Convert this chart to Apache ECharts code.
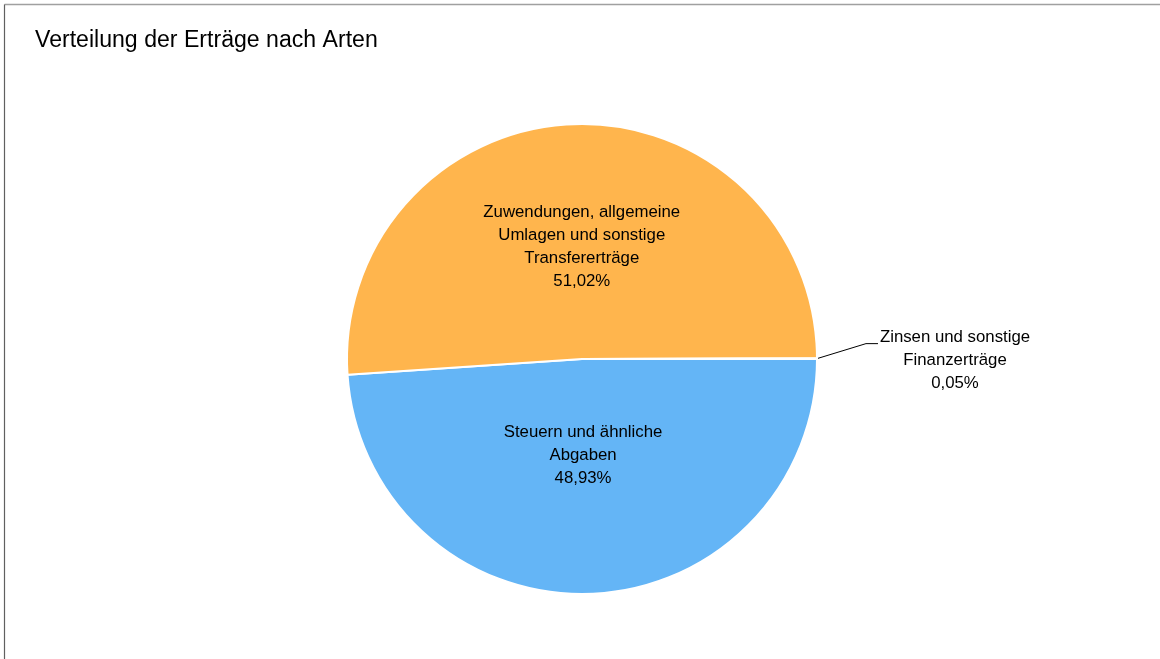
<!DOCTYPE html>
<html>
<head>
<meta charset="utf-8">
<script src="https://cdn.jsdelivr.net/npm/echarts@6/dist/echarts.min.js"></script>
<style>
html,body{margin:0;padding:0;background:#fff;}
#chart{width:1160px;height:659px;}
</style>
</head>
<body>
<div id="chart"></div>
<script>
const titleText = 'Verteilung der Erträge nach Arten';
const categories = [
  'Steuern und ähnliche\nAbgaben',
  'Zuwendungen, allgemeine\nUmlagen und sonstige\nTransfererträge',
  'Zinsen und sonstige\nFinanzerträge'
];
const percentLabels = ['48,93%', '51,02%', '0,05%'];
const values = [48.93, 51.02, 0.05];
const colors = ['#64B5F6', '#FFB54D', '#FFB54D'];

const FONT = "'Liberation Sans', Arial, sans-serif";

const chart = echarts.init(document.getElementById('chart'), null, {renderer: 'canvas'});

const data = categories.map((c, i) => ({
  name: c,
  value: values[i],
  pct: percentLabels[i],
  itemStyle: {color: colors[i]},
  label: {position: i === 2 ? 'outside' : 'inside'},
  labelLine: {show: i === 2}
}));

chart.setOption({
  animation: false,
  backgroundColor: '#fff',
  title: {
    text: titleText,
    left: 30,
    top: 24.5,
    textStyle: {fontFamily: FONT, fontSize: 23.1, fontWeight: 'normal', color: '#000'}
  },
  graphic: [
    {type: 'line', shape: {x1: 4.5, y1: 4.5, x2: 1160, y2: 4.5}, style: {stroke: '#a0a0a0', lineWidth: 1.5}, z: 100},
    {type: 'line', shape: {x1: 4.5, y1: 4.5, x2: 4.5, y2: 659}, style: {stroke: '#606060', lineWidth: 1.2}, z: 100}
  ],
  series: [{
    type: 'pie',
    center: [582, 359],
    radius: [0, 235],
    startAngle: 0,
    clockwise: true,
    avoidLabelOverlap: false,
    itemStyle: {borderColor: '#fff', borderWidth: 2},
    emphasis: {disabled: true},
    label: {
      show: true,
      formatter: p => p.name + '\n' + p.data.pct,
      fontFamily: FONT,
      fontSize: 16.8,
      lineHeight: 23,
      color: '#000',
      align: 'center'
    },
    labelLine: {
      length: 20,
      length2: 10,
      lineStyle: {color: '#000', width: 1}
    },
    labelLayout: function (params) {
      if (params.dataIndex === 2 && params.labelLinePoints) {
        const p0 = params.labelLinePoints[0];
        return {
          x: p0[0] + 138,
          y: p0[1] + 2,
          align: 'center',
          verticalAlign: 'middle',
          labelLinePoints: [p0, [p0[0] + 49, p0[1] - 15], [p0[0] + 61, p0[1] - 15]]
        };
      }
      if (params.dataIndex === 0) {
        return {dy: -24, dx: -3};
      }
      if (params.dataIndex === 1) {
        return {dy: 8, dx: 4};
      }
      return {};
    },
    data: data
  }]
});
</script>
</body>
</html>
